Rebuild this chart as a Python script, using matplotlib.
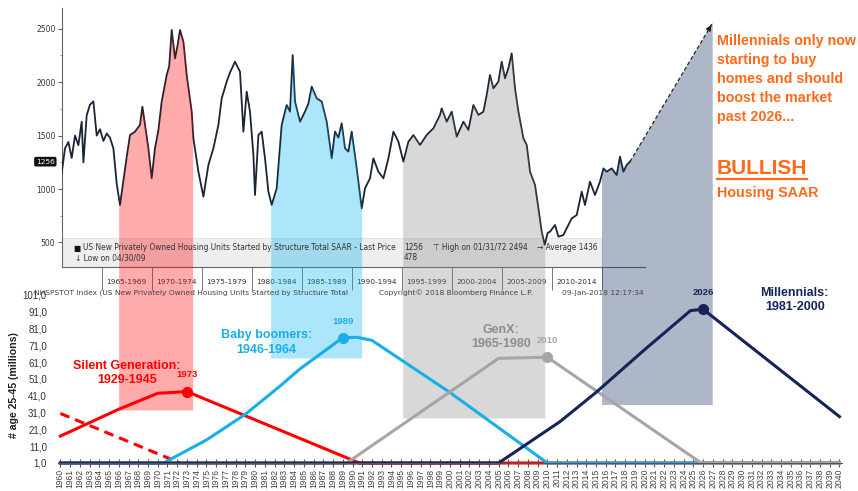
import numpy as np
import matplotlib
matplotlib.use("Agg")
import matplotlib.pyplot as plt
import matplotlib.transforms as mtransforms
from matplotlib.patches import Rectangle

W, H = 858, 491
NARROW = ["Liberation Sans Narrow", "Liberation Sans", "DejaVu Sans"]

# --- Bloomberg panel: US housing starts (thousands, SAAR)
hs_years = [1961.0, 1961.33, 1961.67, 1962.0, 1962.33, 1962.67, 1963.0, 1963.17, 1963.5, 1963.83,
            1964.17, 1964.5, 1964.83, 1965.17, 1965.5, 1965.83, 1966.17, 1966.5, 1966.83, 1967.17,
            1967.5, 1967.83, 1968.33, 1968.83, 1969.07, 1969.33, 1969.67, 1970.0, 1970.33, 1970.67,
            1971.0, 1971.5, 1971.75, 1972.0, 1972.33, 1972.6, 1972.83, 1973.17, 1973.5, 1974.0,
            1974.17, 1974.67, 1975.17, 1975.67, 1976.17, 1976.67, 1977.0, 1977.5, 1977.83, 1978.33,
            1978.83, 1979.17, 1979.5, 1979.83, 1980.17, 1980.33, 1980.67, 1981.0, 1981.33, 1981.67,
            1982.0, 1982.5, 1983.0, 1983.5, 1983.83, 1984.1, 1984.33, 1984.83, 1985.33, 1985.67,
            1986.0, 1986.5, 1987.0, 1987.5, 1988.0, 1988.33, 1988.67, 1989.0, 1989.33, 1989.67,
            1990.0, 1990.5, 1991.0, 1991.33, 1991.83, 1992.17, 1992.67, 1993.17, 1993.67, 1994.17,
            1994.67, 1995.17, 1995.67, 1996.17, 1996.83, 1997.5, 1997.83, 1998.17, 1998.5, 1998.83,
            1999.0, 1999.5, 2000.0, 2000.5, 2001.17, 2001.67, 2002.17, 2002.67, 2003.17, 2003.5,
            2003.83, 2004.17, 2004.67, 2005.0, 2005.33, 2005.67, 2006.0, 2006.33, 2006.67, 2007.17,
            2007.5, 2007.83, 2008.33, 2008.67, 2009.0, 2009.3, 2009.6, 2009.83, 2010.33, 2010.67,
            2011.17, 2011.5, 2012.0, 2012.5, 2013.0, 2013.33, 2013.83, 2014.33, 2014.83, 2015.17,
            2015.5, 2016.0, 2016.5, 2016.83, 2017.17, 2017.5, 2017.83]
hs_values = [1150, 1380, 1440, 1290, 1500, 1410, 1630, 1250, 1690, 1790,
             1820, 1500, 1560, 1450, 1520, 1480, 1380, 1050, 850, 1080,
             1300, 1505, 1537, 1600, 1771, 1600, 1380, 1100, 1381, 1550,
             1818, 2067, 2150, 2489, 2223, 2350, 2489, 2379, 2067, 1724,
             1474, 1162, 928, 1225, 1381, 1600, 1849, 2005, 2090, 2192,
             2098, 1537, 1911, 1724, 1318, 944, 1505, 1537, 1287, 975,
             850, 1006, 1600, 1786, 1724, 2254, 1818, 1630, 1724, 1800,
             1958, 1849, 1818, 1630, 1287, 1537, 1480, 1615, 1381, 1350,
             1537, 1193, 819, 1006, 1100, 1287, 1162, 1100, 1287, 1537,
             1443, 1256, 1443, 1505, 1412, 1505, 1537, 1568, 1630, 1693,
             1755, 1630, 1724, 1490, 1630, 1552, 1786, 1693, 1724, 1880,
             2067, 1942, 2005, 2192, 2036, 2130, 2270, 1942, 1724, 1474,
             1412, 1162, 1037, 819, 600, 478, 590, 600, 663, 554,
             569, 632, 725, 756, 975, 850, 1069, 944, 1069, 1193,
             1162, 1193, 1131, 1303, 1162, 1225, 1256]
upper_yticks = [500, 1000, 1500, 2000, 2500]
periods = ["1965-1969", "1970-1974", "1975-1979", "1980-1984", "1985-1989", "1990-1994",
           "1995-1999", "2000-2004", "2005-2009", "2010-2014"]
period_starts = [1965, 1970, 1975, 1980, 1985, 1990, 1995, 2000, 2005, 2010]
arrow_years = [2017.83, 2026.1]
arrow_values = [1256, 2557]

# --- generations panel: # aged 25-45 (millions)
years_axis = list(range(1960, 2041))
lower_yticks = [1, 11, 21, 31, 41, 51, 61, 71, 81, 91, 101]
lower_ylabels = ["1,0", "11,0", "21,0", "31,0", "41,0", "51,0", "61,0", "71,0", "81,0", "91,0", "101,0"]
silent_old_x = [1960, 1972.3]
silent_old_y = [30.5, 1]
silent_x = [1960, 1966, 1970, 1973, 1990.7, 2040]
silent_y = [17, 33, 42.5, 43.5, 1, 1]
boomer_x = [1960, 1970.6, 1975, 1979, 1982.6, 1984.6, 1989, 1990.5, 1992, 2000, 2010, 2040]
boomer_y = [1, 1, 14.7, 30, 47, 57, 75.6, 75.8, 74, 43, 1, 1]
genx_x = [1960, 1989.4, 2005, 2010, 2025.8, 2040]
genx_y = [1, 1, 63.3, 64, 1, 1]
mill_x = [1960, 2005, 2011.3, 2015, 2020, 2024.7, 2026, 2040]
mill_y = [1, 1, 25.6, 43, 68.5, 91.7, 92.5, 28.6]

RED, BLUE, GRAY, NAVY = "#FF0000", "#18AEEA", "#A6A6A6", "#15245A"
ORANGE = "#FF6A1A"


def fx(px):
    return px / W


def fy(py):
    return 1 - py / H


fig = plt.figure(figsize=(W / 100, H / 100), dpi=100)

# ================= upper Bloomberg chart =================
ax = fig.add_axes([fx(61.7), fy(267), (645 - 61.7) / W, (267 - 8) / H])
ax.set_xlim(1961.0, 2019.33)
ax.set_ylim(269.7, 2694.7)
ax.plot(hs_years, hs_values, color="#1A2533", lw=1.3, zorder=3)
for s in ["top", "right"]:
    ax.spines[s].set_visible(False)
for s in ["left", "bottom"]:
    ax.spines[s].set_color("#666666")
    ax.spines[s].set_linewidth(0.8)
ax.set_xticks([])
ax.set_yticks(upper_yticks)
ax.set_yticks([750, 1250, 1750, 2250], minor=True)
ax.tick_params(axis="y", which="major", length=3, width=0.8, color="#666666",
               labelsize=5.5, labelcolor="#333333", pad=1.5)
ax.tick_params(axis="y", which="minor", length=1.8, width=0.6, color="#888888")

xt = ax.get_xaxis_transform()
# legend strip
ax.add_patch(Rectangle((1961.03, 0), 2015.03 - 1961.03, 0.112, transform=xt,
                       facecolor="#EEEEEE", edgecolor="#DDDDDD", lw=0.5, zorder=1))
# period boxes under the axis
ax.vlines(period_starts + [2015], 0, -0.089, transform=xt, colors="#777777", lw=0.7, clip_on=False)
for lab, st in zip(periods, period_starts):
    ax.text(st + 2.5, -0.058, lab, transform=xt, ha="center", va="center",
            fontsize=5.3, color="#333333")

# last price tag
tag = mtransforms.blended_transform_factory(ax.transAxes, ax.transData)
ax.text(-0.012, hs_values[-1], str(hs_values[-1]), transform=tag, ha="right", va="center",
        fontsize=5.3, color="white",
        bbox=dict(boxstyle="round,pad=0.25", fc="#111111", ec="none"))

# shaded generation windows (semi-transparent, reaching into the lower panel)
def shade(x0, x1, bottom, color, alpha):
    xs = np.concatenate([[x0], [x for x in hs_years if x0 < x < x1], [x1]])
    ys = np.interp(xs, hs_years, hs_values)
    ax.fill_between(xs, ys, bottom, color=color, alpha=alpha, lw=0, zorder=5, clip_on=False)

shade(1966.7, 1974.1, -1069, "#FF0000", 0.33)
shade(1981.9, 1991.0, -582, "#00B0F0", 0.32)
shade(1995.1, 2009.3, -1144, "#808080", 0.30)

xs = np.concatenate([[2015.03], [x for x in hs_years if x > 2015.03]])
ys = list(np.interp(xs, hs_years, hs_values))
xs = list(xs) + [arrow_years[1], arrow_years[1], 2015.03]
ys = ys + [arrow_values[1], -1022, -1022]
ax.fill(xs, ys, color="#203864", alpha=0.36, lw=0, zorder=5, clip_on=False)

ax.plot(arrow_years, arrow_values, color="#222222", lw=0.9, ls=(0, (3, 2)), zorder=6, clip_on=False)
back = (arrow_years[1] - 0.04 * (arrow_years[1] - arrow_years[0]),
        arrow_values[1] - 0.04 * (arrow_values[1] - arrow_values[0]))
ax.annotate("", xy=(arrow_years[1], arrow_values[1]), xytext=back, annotation_clip=False,
            arrowprops=dict(arrowstyle="-|>", color="#222222", lw=0.9, mutation_scale=8), zorder=6)

# legend strip text
lg = dict(fontsize=5.45, color="#333333", va="center")
fig.text(fx(73.5), fy(248), "\u25a0", fontsize=5.5, color="#111111", va="center")
fig.text(fx(82.7), fy(248), "US New Privately Owned Housing Units Started by Structure Total SAAR - Last Price", **lg)
fig.text(fx(404), fy(248), "1256", **lg)
fig.text(fx(404), fy(257.7), "478", **lg)
fig.text(fx(432.7), fy(248), "\u22a4 High on 01/31/72 2494", **lg)
fig.text(fx(536.7), fy(248), "\u2192 Average 1436", **lg)
fig.text(fx(75), fy(257.7), "\u2193 Low on 04/30/09", **lg)

ft = dict(fontsize=5.4, color="#444444", va="center")
fig.text(fx(34), fy(293), "NHSPSTOT Index (US New Privately Owned Housing Units Started by Structure Total", **ft)
fig.text(fx(379), fy(293), "Copyright\u00a9 2018 Bloomberg Finance L.P.", **ft)
fig.text(fx(562), fy(293), "09-Jan-2018 12:17:34", **ft)

# ================= lower generations chart =================
axb = fig.add_axes([fx(58), fy(463), (842 - 58) / W, (463 - 295) / H])
axb.patch.set_alpha(0)
axb.set_xlim(1959.76, 2040.26)
axb.set_ylim(1, 101)
lw = 2.2
axb.plot(silent_old_x, silent_old_y, color=RED, lw=lw, ls=(0, (3.2, 2)), clip_on=False)
axb.plot(silent_x, silent_y, color=RED, lw=lw, clip_on=False)
axb.plot(boomer_x, boomer_y, color=BLUE, lw=lw, clip_on=False)
axb.plot(genx_x, genx_y, color=GRAY, lw=lw, clip_on=False)
axb.plot(mill_x, mill_y, color=NAVY, lw=lw, clip_on=False)

peaks = [(silent_x, silent_y, 1973, RED),
         (boomer_x, boomer_y, 1989, BLUE),
         (genx_x, genx_y, 2010, GRAY),
         (mill_x, mill_y, 2026, NAVY)]
for px_, py_, yr, col in peaks:
    val = py_[px_.index(yr)]
    axb.plot([yr], [val], "o", color=col, ms=7, clip_on=False, zorder=4)
    axb.annotate(str(yr), (yr, val), xytext=(0, 12), textcoords="offset points",
                 ha="center", va="center", color=col, fontsize=6.8, fontweight="bold",
                 family=NARROW, annotation_clip=False)

gl = dict(ha="center", va="center", fontsize=9, fontweight="bold", family=NARROW, linespacing=1.25)
axb.text(1966.85, 54.5, "Silent Generation:\n1929-1945", color=RED, **gl)
axb.text(1981.2, 72.7, "Baby boomers:\n1946-1964", color=BLUE, **gl)
axb.text(2005.25, 76, "GenX:\n1965-1980", color="#8C8C8C", **gl)
axb.text(2035.4, 98, "Millennials:\n1981-2000", color=NAVY, **gl)

for s in ["top", "right", "left"]:
    axb.spines[s].set_visible(False)
axb.spines["bottom"].set_color("#555555")
axb.set_xticks(years_axis)
axb.set_xticklabels([str(y) for y in years_axis], rotation=90, fontsize=6.2,
                    color="#444444", family=["Liberation Sans", "DejaVu Sans"])
axb.tick_params(axis="x", direction="inout", length=6, width=0.8, color="#555555", pad=1)
axb.set_yticks(lower_yticks)
axb.set_yticklabels(lower_ylabels, fontsize=7, color="#333333", family=NARROW)
axb.tick_params(axis="y", length=0, pad=8)

fig.text(fx(14), fy(385), "# age 25-45 (millions)", rotation=90, ha="center", va="center",
         fontsize=7.6, fontweight="bold", color="#222222", family=NARROW)

# ================= right-hand callout =================
ot = dict(color=ORANGE, fontweight="bold", family=NARROW, va="center", ha="left")
fig.text(fx(716.7), fy(79), "Millennials only now\nstarting to buy\nhomes and should\nboost the market\npast 2026...",
         fontsize=10.3, linespacing=1.45, **ot)
bull = fig.text(fx(716.7), fy(168.3), "BULLISH", fontsize=15, **ot)
fig.text(fx(716.7), fy(192.7), "Housing SAAR", fontsize=10.3, **ot)

fig.canvas.draw()
bb = bull.get_window_extent().transformed(fig.transFigure.inverted())
fig.add_artist(plt.Line2D([bb.x0, bb.x1], [bb.y0 - 0.002, bb.y0 - 0.002], color=ORANGE, lw=1.6,
                          transform=fig.transFigure))

fig.savefig("out.png", dpi=100)
